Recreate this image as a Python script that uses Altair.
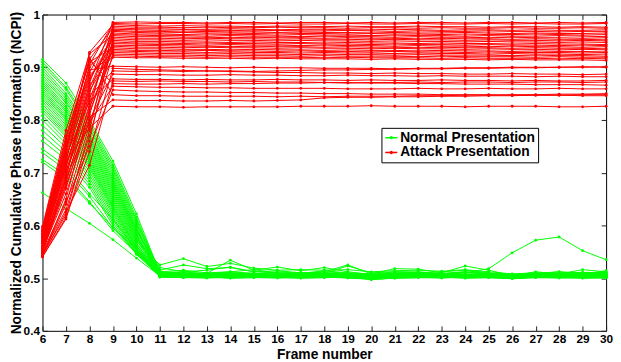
import altair as alt
import pandas as pd

frames = [6, 7, 8, 9, 10, 11, 12, 13, 14, 15, 16, 17, 18, 19, 20, 21, 22, 23, 24, 25, 26, 27, 28, 29, 30]
y_ticks = [0.4, 0.5, 0.6, 0.7, 0.8, 0.9, 1.0]
groups = ["Normal Presentation", "Attack Presentation"]
colors = ["#00ff00", "#ff0000"]

# NCPI x 1000, Normal Presentation, frames 6-11
normal_head = [
    [915, 870, 800, 722, 622, 510], [910, 862, 795, 715, 615, 508], [905, 858, 790, 710, 610, 512],
    [900, 850, 785, 705, 606, 505], [895, 845, 782, 700, 602, 515], [890, 840, 776, 695, 598, 507],
    [885, 835, 772, 690, 595, 504], [880, 832, 768, 686, 592, 510], [876, 826, 764, 682, 590, 506],
    [872, 822, 760, 678, 588, 520], [868, 818, 756, 674, 585, 503], [864, 815, 752, 670, 582, 509],
    [860, 810, 748, 666, 580, 505], [856, 806, 745, 662, 577, 512], [852, 803, 740, 658, 575, 504],
    [848, 800, 736, 654, 572, 507], [844, 795, 732, 650, 570, 525], [840, 790, 728, 646, 567, 505],
    [835, 785, 724, 642, 565, 508], [830, 780, 720, 638, 562, 503], [825, 776, 716, 635, 560, 510],
    [820, 772, 712, 632, 558, 506], [815, 768, 708, 628, 556, 502], [808, 762, 702, 624, 554, 508],
    [800, 755, 696, 620, 552, 505], [790, 748, 690, 615, 550, 508], [780, 740, 684, 610, 548, 503],
    [770, 732, 678, 605, 546, 507], [760, 725, 672, 600, 545, 504], [745, 712, 660, 612, 553, 506],
    [738, 705, 655, 595, 549, 502], [725, 695, 645, 590, 547, 505], [720, 688, 642, 596, 555, 508],
    [662, 632, 604, 573, 538, 504],
]
# Normal Presentation, frames 12-30
normal_tail = [
    [507, 505, 506, 504, 505, 503, 504, 505, 502, 504, 505, 503, 504, 503, 505, 504, 503, 505, 504],
    [506, 507, 505, 506, 504, 505, 506, 504, 503, 505, 504, 506, 505, 504, 503, 505, 506, 504, 505],
    [515, 510, 512, 516, 510, 508, 512, 509, 506, 510, 511, 508, 512, 509, 507, 506, 510, 508, 509],
    [503, 502, 504, 503, 502, 503, 504, 502, 500, 502, 503, 502, 501, 503, 502, 501, 502, 503, 502],
    [525, 518, 520, 512, 514, 510, 509, 523, 510, 512, 510, 512, 515, 510, 504, 512, 508, 516, 512],
    [505, 506, 504, 505, 506, 504, 505, 503, 501, 504, 505, 503, 504, 502, 503, 504, 505, 503, 504],
    [502, 503, 501, 502, 503, 501, 502, 503, 499, 501, 502, 503, 501, 502, 501, 503, 502, 501, 502],
    [512, 508, 510, 508, 512, 509, 514, 510, 508, 508, 509, 507, 510, 508, 506, 509, 508, 510, 511],
    [504, 505, 503, 504, 505, 503, 504, 505, 501, 503, 504, 502, 503, 504, 502, 503, 504, 502, 503],
    [512, 515, 521, 512, 510, 508, 512, 525, 508, 518, 517, 510, 523, 515, 505, 508, 512, 508, 514],
    [501, 502, 500, 501, 502, 500, 501, 502, 498, 500, 501, 502, 500, 501, 500, 502, 501, 500, 501],
    [508, 506, 509, 507, 506, 508, 507, 506, 504, 507, 506, 508, 506, 507, 505, 507, 506, 508, 507],
    [504, 503, 505, 504, 503, 505, 504, 503, 501, 503, 504, 503, 505, 504, 502, 504, 503, 505, 503],
    [510, 509, 534, 515, 521, 514, 520, 512, 507, 512, 512, 509, 512, 509, 506, 509, 512, 509, 510],
    [503, 504, 502, 503, 504, 502, 503, 504, 500, 502, 503, 504, 502, 503, 501, 503, 504, 502, 503],
    [506, 505, 507, 506, 505, 507, 506, 505, 503, 506, 505, 506, 507, 505, 504, 506, 505, 507, 506],
    [537, 522, 528, 519, 515, 516, 515, 516, 512, 514, 515, 513, 516, 512, 508, 510, 509, 511, 510],
    [503, 504, 503, 502, 504, 503, 502, 504, 500, 503, 502, 504, 503, 502, 501, 503, 502, 504, 503],
    [507, 506, 508, 507, 506, 507, 508, 506, 504, 506, 507, 505, 507, 506, 504, 506, 507, 505, 506],
    [502, 501, 503, 502, 501, 502, 503, 501, 499, 501, 502, 501, 503, 502, 500, 502, 501, 502, 501],
    [509, 508, 510, 509, 508, 510, 509, 508, 506, 508, 509, 508, 510, 509, 507, 508, 509, 510, 508],
    [505, 504, 506, 505, 504, 506, 505, 504, 502, 504, 505, 504, 506, 505, 503, 505, 504, 506, 505],
    [501, 500, 502, 501, 500, 501, 502, 500, 498, 500, 501, 500, 502, 501, 499, 501, 500, 501, 500],
    [506, 507, 505, 506, 507, 505, 506, 507, 503, 505, 506, 507, 505, 506, 504, 506, 507, 505, 506],
    [503, 504, 502, 503, 504, 502, 503, 504, 500, 502, 503, 504, 502, 503, 501, 503, 504, 502, 503],
    [510, 508, 512, 509, 507, 506, 510, 508, 505, 509, 508, 507, 510, 518, 548, 572, 578, 552, 535],
    [502, 501, 503, 502, 501, 503, 502, 501, 499, 501, 502, 501, 503, 502, 500, 502, 501, 503, 502],
    [505, 506, 504, 505, 506, 504, 505, 506, 502, 504, 505, 506, 504, 505, 503, 505, 506, 504, 505],
    [503, 502, 504, 503, 502, 504, 503, 502, 500, 502, 503, 502, 504, 503, 501, 503, 502, 504, 503],
    [504, 505, 506, 504, 505, 506, 504, 505, 501, 505, 504, 505, 506, 504, 503, 504, 505, 506, 504],
    [501, 502, 500, 501, 502, 500, 501, 502, 497, 500, 501, 502, 500, 501, 499, 501, 502, 500, 501],
    [504, 503, 505, 504, 503, 505, 504, 503, 501, 503, 504, 503, 505, 504, 502, 504, 503, 505, 504],
    [507, 508, 506, 507, 508, 506, 507, 508, 504, 506, 507, 508, 506, 507, 505, 507, 508, 506, 507],
    [502, 503, 501, 502, 503, 501, 502, 503, 499, 501, 502, 503, 501, 502, 500, 502, 503, 501, 502],
]

# NCPI x 1000, Attack Presentation, frames 6-9
attack_head = [
    [548, 690, 870, 985], [560, 720, 905, 983], [575, 740, 928, 981], [542, 650, 820, 978],
    [590, 760, 915, 975], [555, 700, 850, 972], [580, 745, 890, 970], [545, 620, 780, 968],
    [565, 710, 860, 965], [598, 780, 925, 962], [550, 680, 830, 960], [570, 725, 875, 957],
    [540, 612, 760, 954], [585, 750, 900, 951], [558, 695, 840, 948], [562, 705, 810, 945],
    [578, 735, 880, 942], [544, 640, 790, 940], [592, 765, 910, 937], [552, 670, 815, 934],
    [568, 715, 855, 931], [582, 742, 885, 928], [547, 630, 770, 925], [572, 728, 865, 922],
    [556, 685, 825, 919], [588, 755, 895, 902], [541, 615, 740, 898], [566, 712, 845, 893],
    [553, 660, 800, 887], [576, 732, 835, 878], [543, 625, 714, 874], [595, 770, 912, 869],
    [560, 690, 795, 864], [549, 645, 750, 857], [584, 748, 918, 848], [557, 675, 805, 838],
    [571, 722, 785, 826],
]
# Attack Presentation, frames 10-30
attack_tail = [
    [986, 985, 985, 984, 985, 985, 984, 985, 985, 984, 985, 984, 985, 985, 984, 985, 985, 984, 985, 984, 985],
    [982, 983, 983, 982, 983, 982, 983, 982, 982, 983, 982, 982, 983, 982, 982, 983, 982, 983, 982, 982, 983],
    [979, 978, 979, 978, 978, 977, 978, 978, 977, 978, 977, 977, 978, 977, 977, 976, 977, 977, 976, 977, 976],
    [976, 976, 975, 976, 975, 975, 976, 975, 975, 974, 975, 975, 974, 975, 974, 974, 975, 974, 974, 975, 974],
    [973, 973, 972, 972, 973, 972, 971, 972, 972, 971, 971, 972, 971, 970, 971, 971, 970, 971, 970, 970, 971],
    [971, 970, 971, 970, 970, 969, 970, 969, 969, 970, 969, 968, 969, 968, 968, 969, 968, 968, 967, 968, 968],
    [968, 968, 967, 968, 967, 967, 966, 967, 966, 966, 965, 966, 965, 965, 966, 965, 964, 965, 964, 964, 965],
    [966, 965, 966, 965, 965, 964, 965, 964, 964, 963, 964, 963, 963, 962, 963, 962, 962, 963, 962, 961, 962],
    [963, 963, 962, 963, 962, 962, 961, 962, 961, 961, 960, 961, 960, 960, 959, 960, 959, 959, 960, 959, 958],
    [961, 960, 960, 959, 960, 959, 959, 958, 959, 958, 958, 957, 958, 957, 957, 956, 957, 956, 956, 955, 956],
    [958, 958, 957, 957, 956, 957, 956, 956, 955, 956, 955, 955, 954, 955, 954, 954, 953, 954, 953, 953, 952],
    [955, 955, 954, 955, 954, 954, 953, 954, 953, 953, 952, 953, 952, 952, 951, 952, 951, 951, 950, 951, 950],
    [952, 952, 951, 952, 951, 951, 950, 951, 950, 950, 949, 950, 949, 949, 948, 949, 948, 948, 947, 948, 947],
    [949, 949, 948, 948, 947, 948, 947, 947, 946, 947, 946, 946, 945, 946, 945, 945, 944, 945, 944, 944, 943],
    [946, 946, 945, 946, 945, 945, 944, 945, 944, 944, 943, 944, 943, 943, 942, 943, 942, 942, 941, 942, 941],
    [944, 943, 943, 942, 943, 942, 942, 941, 942, 941, 941, 940, 941, 940, 940, 939, 940, 939, 939, 938, 939],
    [941, 941, 940, 940, 939, 940, 939, 939, 938, 939, 938, 938, 937, 938, 937, 937, 936, 937, 936, 936, 935],
    [938, 938, 937, 938, 937, 937, 936, 937, 936, 936, 935, 936, 935, 935, 934, 935, 934, 934, 933, 934, 933],
    [935, 935, 934, 934, 933, 934, 933, 933, 932, 933, 932, 932, 931, 932, 931, 931, 930, 931, 930, 930, 929],
    [932, 932, 931, 932, 931, 931, 930, 931, 930, 930, 929, 930, 929, 929, 928, 929, 928, 928, 928, 927, 928],
    [930, 929, 929, 928, 929, 928, 928, 927, 928, 927, 927, 926, 927, 926, 926, 925, 926, 925, 925, 924, 925],
    [927, 926, 926, 925, 926, 925, 925, 924, 925, 924, 924, 923, 924, 923, 923, 923, 922, 923, 922, 922, 921],
    [924, 923, 923, 922, 923, 922, 922, 921, 922, 921, 921, 921, 920, 921, 920, 920, 920, 919, 920, 919, 919],
    [921, 920, 920, 919, 920, 919, 919, 919, 918, 919, 918, 918, 918, 917, 918, 917, 917, 917, 916, 917, 916],
    [918, 918, 917, 917, 917, 916, 917, 916, 916, 916, 915, 916, 915, 915, 915, 914, 915, 914, 914, 914, 913],
    [901, 900, 901, 900, 899, 900, 899, 899, 898, 898, 898, 897, 898, 898, 899, 899, 900, 900, 900, 901, 900],
    [896, 895, 894, 893, 892, 891, 890, 890, 889, 889, 888, 889, 888, 888, 887, 887, 888, 887, 887, 886, 887],
    [892, 893, 892, 893, 893, 892, 893, 894, 895, 895, 896, 896, 897, 897, 898, 898, 899, 899, 900, 900, 901],
    [886, 886, 885, 885, 886, 885, 885, 884, 884, 885, 884, 884, 883, 884, 883, 883, 883, 882, 883, 882, 882],
    [877, 877, 876, 877, 876, 876, 877, 876, 876, 875, 876, 875, 875, 876, 875, 875, 874, 875, 874, 874, 875],
    [873, 874, 873, 873, 872, 873, 872, 872, 871, 871, 870, 870, 869, 869, 868, 868, 868, 867, 867, 867, 866],
    [868, 868, 869, 868, 869, 869, 870, 870, 871, 870, 871, 871, 872, 871, 872, 872, 871, 872, 872, 871, 872],
    [863, 862, 862, 861, 861, 860, 860, 860, 860, 859, 859, 859, 860, 859, 859, 860, 859, 859, 860, 859, 859],
    [855, 854, 853, 853, 852, 852, 851, 851, 850, 850, 849, 849, 849, 848, 848, 848, 847, 847, 847, 846, 846],
    [846, 846, 845, 845, 845, 845, 844, 845, 844, 845, 845, 845, 846, 846, 847, 847, 848, 848, 849, 849, 850],
    [837, 837, 836, 836, 837, 836, 837, 838, 842, 843, 843, 844, 844, 845, 845, 846, 846, 847, 847, 848, 848],
    [825, 825, 824, 825, 825, 825, 825, 826, 826, 826, 827, 826, 826, 826, 825, 826, 826, 826, 825, 825, 826],
]


def build(heads, tails, group, prefix):
    rows = []
    for i, (h, t) in enumerate(zip(heads, tails)):
        for f, v in zip(frames, h + t):
            rows.append({"frame": f, "ncpi": v / 1000.0, "group": group, "line": "%s%d" % (prefix, i)})
    return pd.DataFrame(rows)


df_n = build(normal_head, normal_tail, groups[0], "n")
df_a = build(attack_head, attack_tail, groups[1], "a")

FONT = "Liberation Sans"
TICK = "#222222"

xscale = alt.Scale(domain=[6, 30], nice=False)
yscale = alt.Scale(domain=[0.4, 1.0], nice=False, zero=False)

legend = alt.Legend(
    orient="none", legendX=344, legendY=115, title=None,
    strokeColor="black", fillColor="white", padding=3, rowPadding=1,
    labelFont=FONT, labelFontSize=14, labelFontWeight="bold", labelColor="black",
    labelOffset=2, symbolSize=150, symbolStrokeWidth=1.5,
    symbolType="M-1,0L1,0M-0.15,0A0.15,0.15,0,1,0,0.15,0A0.15,0.15,0,1,0,-0.15,0",
)
color = alt.Color("group:N", scale=alt.Scale(domain=groups, range=colors), legend=legend)

x_axis = alt.Axis(
    orient="bottom", values=frames, format="d", domain=False, grid=False,
    tickSize=5, tickWidth=1, tickColor=TICK, offset=-5, labelPadding=3,
    labelFont=FONT, labelFontSize=12, labelFontWeight="bold", labelColor="black",
    labelOverlap=False, labelFlush=False,
    title="Frame number", titleFont=FONT, titleFontSize=14, titleFontWeight="bold",
    titleColor="black", titlePadding=3,
)
y_axis = alt.Axis(
    orient="left", values=y_ticks, format="~g", domain=False, grid=False,
    tickSize=5, tickWidth=1, tickColor=TICK, offset=-5, labelPadding=3,
    labelFont=FONT, labelFontSize=12, labelFontWeight="bold", labelColor="black",
    labelOverlap=False, labelFlush=False,
    title="Normalized Cumulative Phase Information (NCPI)", titleFont=FONT,
    titleFontSize=14, titleFontWeight="bold", titleColor="black", titlePadding=0,
)
x_top = alt.Axis(orient="top", values=frames, labels=False, domain=False, grid=False,
                 tickSize=5, tickWidth=1, tickColor=TICK, offset=-5, title=None)
y_right = alt.Axis(orient="right", values=y_ticks, labels=False, domain=False, grid=False,
                   tickSize=5, tickWidth=1, tickColor=TICK, offset=-5, title=None)

point_def = alt.OverlayMarkDef(filled=True, size=8, opacity=1)

green = alt.Chart(df_n).mark_line(strokeWidth=1, point=point_def).encode(
    x=alt.X("frame:Q", scale=xscale, axis=x_axis),
    y=alt.Y("ncpi:Q", scale=yscale, axis=y_axis),
    color=color,
    detail="line:N",
)
red = alt.Chart(df_a).mark_line(strokeWidth=1, point=point_def).encode(
    x=alt.X("frame:Q", scale=xscale, axis=None),
    y=alt.Y("ncpi:Q", scale=yscale, axis=None),
    color=color,
    detail="line:N",
)
box_axes = alt.Chart(df_a).mark_point(opacity=0).encode(
    x=alt.X("frame:Q", scale=xscale, axis=x_top),
    y=alt.Y("ncpi:Q", scale=yscale, axis=y_right),
)

chart = alt.layer(green, red, box_axes).resolve_axis(
    x="independent", y="independent"
).properties(
    width=572, height=321,
    padding={"left": 35, "top": 4, "right": 7, "bottom": 29},
    autosize=alt.AutoSizeParams(type="none"),
    background="white",
).configure_view(stroke="black", strokeWidth=1)

chart.save("out.html", embed_options={"renderer": "svg", "actions": False})
